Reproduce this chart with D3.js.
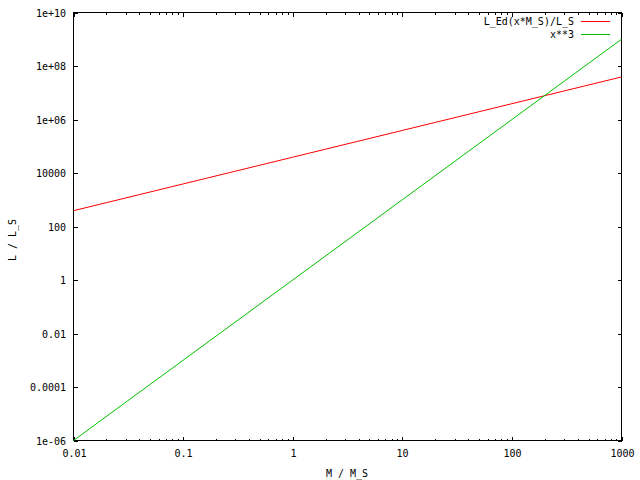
<!DOCTYPE html>
<html><head><meta charset="utf-8">
<script src="https://cdn.jsdelivr.net/npm/d3@7"></script>
<style>body{margin:0;background:#fff}svg{display:block}text{font-family:"DejaVu Sans Mono",monospace;font-size:10px;fill:#000}</style>
</head><body><svg id="c" width="640" height="480"></svg>
<script>
const massX = [0.01, 0.1, 1, 10, 100, 1000];
const eddington = [390, 3900, 39000, 390000, 3900000, 39000000];
const cubic = [1e-6, 1e-3, 1, 1e3, 1e6, 1e9];
const seriesNames = ["L_Ed(x*M_S)/L_S", "x**3"];
const seriesColors = ["#ff0000", "#00c000"];
const xTickValues = [0.01, 0.1, 1, 10, 100, 1000];
const xTickLabels = ["0.01", "0.1", "1", "10", "100", "1000"];
const yTickValues = [1e-6, 1e-4, 1e-2, 1, 1e2, 1e4, 1e6, 1e8, 1e10];
const yTickLabels = ["1e-06", "0.0001", "0.01", "1", "100", "10000", "1e+06", "1e+08", "1e+10"];
const xLabel = "M / M_S", yLabel = "L / L_S";

const svg = d3.select("#c");
const L = 73.5, R = 621.5, T = 12.5, B = 440.5;
const x = d3.scaleLog().domain([0.01, 1000]).range([L, R]);
const y = d3.scaleLog().domain([1e-6, 1e10]).range([B, T]);

// minor x ticks
const minor = [];
for (let d = -2; d < 3; d++) for (let m = 2; m <= 9; m++) minor.push(m * Math.pow(10, d));
const g = svg.append("g").attr("shape-rendering", "crispEdges");
minor.forEach(v => {
  g.append("line").attr("x1", Math.round(x(v)) + 0.5).attr("x2", Math.round(x(v)) + 0.5).attr("y1", B).attr("y2", B - 2).attr("stroke", "#000");
  g.append("line").attr("x1", Math.round(x(v)) + 0.5).attr("x2", Math.round(x(v)) + 0.5).attr("y1", T).attr("y2", T + 2).attr("stroke", "#000");
});
// major x ticks
xTickValues.forEach((v, i) => {
  const px = Math.round(x(v)) + 0.5;
  g.append("line").attr("x1", px).attr("x2", px).attr("y1", B).attr("y2", B - 4).attr("stroke", "#000");
  g.append("line").attr("x1", px).attr("x2", px).attr("y1", T).attr("y2", T + 4).attr("stroke", "#000");
  svg.append("text").attr("x", px).attr("y", 457).attr("text-anchor", "middle").text(xTickLabels[i]);
});
// y ticks
yTickValues.forEach((v, i) => {
  const py = Math.round(y(v)) + 0.5;
  g.append("line").attr("x1", L).attr("x2", L + 4).attr("y1", py).attr("y2", py).attr("stroke", "#000");
  g.append("line").attr("x1", R).attr("x2", R - 4).attr("y1", py).attr("y2", py).attr("stroke", "#000");
  svg.append("text").attr("x", 66).attr("y", py + 3.5).attr("text-anchor", "end").text(yTickLabels[i]);
});

// series
const line = d3.line().x(d => x(d[0])).y(d => y(d[1]));
const series = [eddington, cubic];
series.forEach((vals, i) => {
  svg.append("path").datum(massX.map((m, k) => [m, vals[k]]))
    .attr("d", line).attr("fill", "none").attr("stroke", seriesColors[i]).attr("stroke-width", 1);
});

// border
g.append("rect").attr("x", L).attr("y", T).attr("width", R - L).attr("height", B - T).attr("fill", "none").attr("stroke", "#000");

// legend
seriesNames.forEach((n, i) => {
  const ly = 21.5 + i * 13;
  svg.append("text").attr("x", 574).attr("y", ly + 3.5).attr("text-anchor", "end").text(n);
  svg.append("line").attr("x1", 581).attr("x2", 610).attr("y1", ly).attr("y2", ly).attr("stroke", seriesColors[i]).attr("shape-rendering", "crispEdges");
});

// axis labels
svg.append("text").attr("x", 347).attr("y", 477).attr("text-anchor", "middle").text(xLabel);
svg.append("text").attr("transform", "translate(16,240) rotate(-90)").attr("text-anchor", "middle").text(yLabel);
</script></body></html>
